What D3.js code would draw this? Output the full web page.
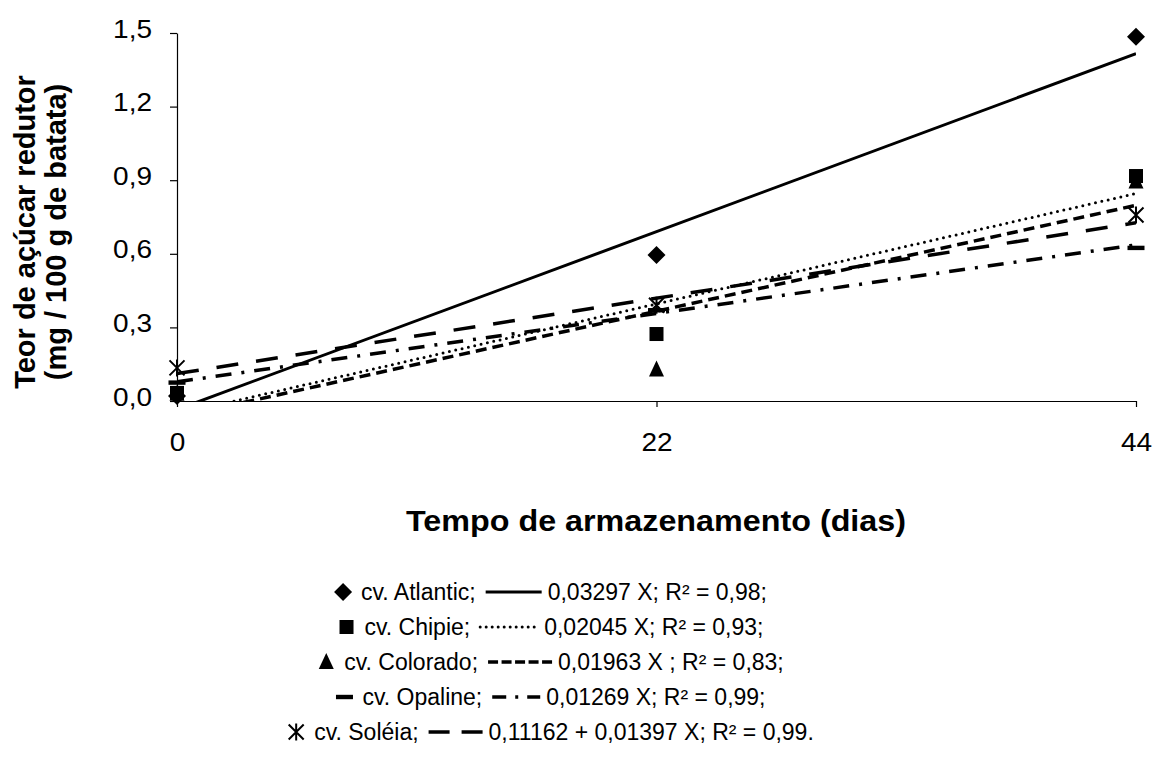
<!DOCTYPE html>
<html>
<head>
<meta charset="utf-8">
<script src="https://cdn.jsdelivr.net/npm/d3@7"></script>
<style>
  html, body { margin: 0; padding: 0; background: #fff; }
  svg { display: block; font-family: "Liberation Sans", Arial, sans-serif; }
</style>
</head>
<body>
<svg id="chart" width="1155" height="765"></svg>
<script>
// Storage time (days) at which the samples were analysed
const days = [0, 22, 44];

// Reducing sugar content (mg / 100 g of potato) per cultivar
const atlantic = [0.02, 0.595, 1.485];
const chipie   = [0.033, 0.273, 0.917];
const colorado = [0.03, 0.128, 0.895];
const opaline  = [0.075, 0.37, 0.624];
const soleia   = [0.135, 0.39, 0.758];

const cultivarNames = ["cv. Atlantic;", "cv. Chipie;", "cv. Colorado;", "cv. Opaline;", "cv. Soléia;"];

// Fitted linear trends: y = intercept + slope * X
const slopes     = [0.03297, 0.02045, 0.01963, 0.01269, 0.01397];
const intercepts = [-0.035, -0.054, -0.066, 0.078, 0.11162];
const equations  = [
  "0,03297 X; R² = 0,98;",
  "0,02045 X; R² = 0,93;",
  "0,01963 X ; R² = 0,83;",
  "0,01269 X; R² = 0,99;",
  "0,11162 + 0,01397 X; R² = 0,99."
];

const yTicks = [0, 0.3, 0.6, 0.9, 1.2, 1.5];
const xTicks = [0, 22, 44];

const seriesValues = [atlantic, chipie, colorado, opaline, soleia];

// Visual style for each series (marker shape, trend line dash, legend sample dash)
const styles = [
  { marker: "diamond",  dash: null,         legendDash: null,         width: 3,   cap: "butt" },
  { marker: "square",   dash: "0 6.5",      legendDash: "0 6",        width: 3,   cap: "round" },
  { marker: "triangle", dash: "11 6",       legendDash: "10 3.5",     width: 3.5, cap: "butt" },
  { marker: "bar",      dash: "16 10 3 10", legendDash: "14 9 3 9",   width: 3.5, cap: "butt" },
  { marker: "star",     dash: "22 18",      legendDash: "21 12",      width: 3.5, cap: "butt" }
];

const svg = d3.select("#chart");
const font = '"Liberation Sans", Arial, sans-serif';

const x = d3.scaleLinear().domain([0, 44]).range([177, 1136]);
const y = d3.scaleLinear().domain([0, 1.5]).range([401, 33]);

const fmt = d => d.toFixed(1).replace(".", ",");

// clip region for the trend lines
svg.append("defs").append("clipPath").attr("id", "plotClip")
  .append("rect")
  .attr("x", x(0)).attr("y", y(1.5))
  .attr("width", x(44) - x(0)).attr("height", y(0) - y(1.5));

// ---- trend lines
const lineGen = d3.line().x(d => x(d[0])).y(d => y(d[1]));
const trendG = svg.append("g").attr("clip-path", "url(#plotClip)");
slopes.forEach((s, i) => {
  const pts = [0, 44].map(t => [t, intercepts[i] + s * t]);
  const st = styles[i];
  trendG.append("path")
    .attr("d", lineGen(pts))
    .attr("fill", "none")
    .attr("stroke", "#000")
    .attr("stroke-width", st.width)
    .attr("stroke-linecap", st.cap)
    .attr("stroke-dasharray", st.dash);
});

// ---- axes
const yAxis = d3.axisLeft(y).tickValues(yTicks).tickFormat(fmt)
  .tickSize(7).tickSizeOuter(0).tickPadding(18);
const gy = svg.append("g").attr("transform", `translate(${x(0)},0)`).call(yAxis);

const xAxis = d3.axisBottom(x).tickValues(xTicks).tickFormat(d3.format("d"))
  .tickSize(6).tickSizeOuter(0).tickPadding(26);
const gx = svg.append("g").attr("transform", `translate(0,${y(0)})`).call(xAxis);

[gx, gy].forEach(g => {
  g.selectAll("text").attr("font-family", font).attr("font-size", 25).attr("fill", "#000");
  g.selectAll("line, path").attr("stroke", "#000").attr("stroke-width", 1.2);
});
// slightly wide tick lettering
[gx, gy].forEach(g => g.selectAll("text").each(function () {
  const w = this.getComputedTextLength();
  d3.select(this).attr("textLength", w * 1.12).attr("lengthAdjust", "spacingAndGlyphs");
}));
gy.selectAll("text").attr("dy", "0.16em");

// ---- marker drawing
function drawMarker(g, type, cx, cy) {
  if (type === "diamond") {
    g.append("path").attr("d", `M${cx},${cy - 9}L${cx + 9},${cy}L${cx},${cy + 9}L${cx - 9},${cy}Z`).attr("fill", "#000");
  } else if (type === "square") {
    g.append("rect").attr("x", cx - 7).attr("y", cy - 7).attr("width", 14).attr("height", 14).attr("fill", "#000");
  } else if (type === "triangle") {
    g.append("path").attr("d", `M${cx},${cy - 9}L${cx + 7.5},${cy + 7}L${cx - 7.5},${cy + 7}Z`).attr("fill", "#000");
  } else if (type === "bar") {
    g.append("rect").attr("x", cx - 8.5).attr("y", cy - 2.2).attr("width", 17).attr("height", 4.4).attr("fill", "#000");
  } else if (type === "star") {
    const r = 7.5;
    g.append("path")
      .attr("d", `M${cx - r},${cy - r}L${cx + r},${cy + r}M${cx - r},${cy + r}L${cx + r},${cy - r}M${cx},${cy - r - 1}L${cx},${cy + r + 1}`)
      .attr("stroke", "#000").attr("stroke-width", 2).attr("fill", "none");
  }
}

const markG = svg.append("g");
seriesValues.forEach((vals, i) => {
  vals.forEach((v, j) => drawMarker(markG, styles[i].marker, x(days[j]), y(v)));
});

// ---- axis titles
svg.append("text")
  .attr("x", 656).attr("y", 531)
  .attr("text-anchor", "middle")
  .attr("font-family", font).attr("font-size", 29).attr("font-weight", "bold")
  .attr("textLength", 500).attr("lengthAdjust", "spacingAndGlyphs")
  .text("Tempo de armazenamento (dias)");

const yTitle = svg.append("g").attr("transform", "translate(0,232) rotate(-90)");
yTitle.append("text").attr("x", 0).attr("y", 35)
  .attr("text-anchor", "middle")
  .attr("font-family", font).attr("font-size", 29).attr("font-weight", "bold")
  .text("Teor de açúcar redutor");
yTitle.append("text").attr("x", 0).attr("y", 66)
  .attr("text-anchor", "middle")
  .attr("font-family", font).attr("font-size", 29).attr("font-weight", "bold")
  .text("(mg / 100 g de batata)");

// ---- legend: marker, cultivar, line sample, fitted equation
const legendG = svg.append("g");
const rowBase = 600, rowStep = 35, legendCenter = 552;
const sampleW = [56, 58, 64, 48, 54];

cultivarNames.forEach((name, i) => {
  const row = legendG.append("g");
  const by = rowBase + i * rowStep;
  const label = row.append("text").attr("y", by)
    .attr("font-family", font).attr("font-size", 23).text(name);
  const eq = row.append("text").attr("y", by)
    .attr("font-family", font).attr("font-size", 23).text(equations[i]);
  const lw = label.node().getComputedTextLength();
  const ew = eq.node().getComputedTextLength();
  const markerW = 24, gap1 = 10, gap2 = 6;
  const total = markerW + lw + gap1 + sampleW[i] + gap2 + ew;
  const x0 = legendCenter - total / 2;
  drawMarker(row, styles[i].marker, x0 + 6, by - 8);
  label.attr("x", x0 + markerW);
  const sx = x0 + markerW + lw + gap1;
  const st = styles[i];
  row.append("line")
    .attr("x1", sx).attr("x2", sx + sampleW[i])
    .attr("y1", by - 8).attr("y2", by - 8)
    .attr("stroke", "#000")
    .attr("stroke-width", st.width)
    .attr("stroke-linecap", st.cap)
    .attr("stroke-dasharray", st.legendDash);
  eq.attr("x", sx + sampleW[i] + gap2);
});
</script>
</body>
</html>
